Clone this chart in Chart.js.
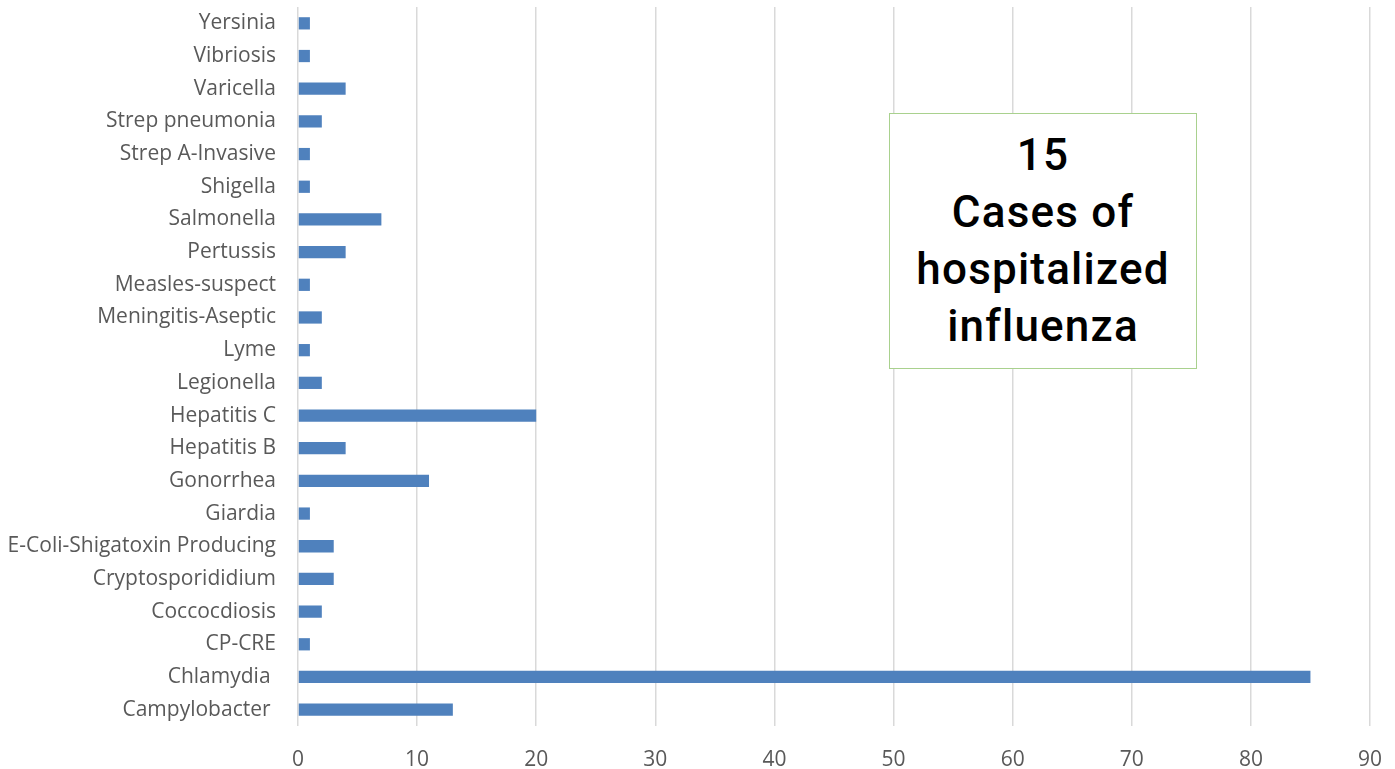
<!DOCTYPE html>
<html>
<head>
<meta charset="utf-8">
<script src="https://cdn.jsdelivr.net/npm/chart.js@4"></script>
<style>
  html, body { margin: 0; padding: 0; background: #fff; }
  #wrap { position: relative; width: 1395px; height: 769px; }
  #note {
    position: absolute; left: 889px; top: 113px; width: 306px; height: 254px;
    border: 1.5px solid #a9d18e; background: #fff;
    display: flex; align-items: center; justify-content: center; text-align: center;
    font-family: Roboto, sans-serif; font-weight: 500; font-size: 44px; line-height: 57px;
    color: #000; letter-spacing: 1.2px;
  }
</style>
</head>
<body>
<div id="wrap">
  <canvas id="myChart" width="1395" height="769"></canvas>
  <div id="note">15<br>Cases of<br>hospitalized<br>influenza</div>
</div>
<script>
const ctx = document.getElementById("myChart").getContext("2d");

// categories, top to bottom as shown
const diseases = ["Yersinia", "Vibriosis", "Varicella", "Strep pneumonia", "Strep A-Invasive",
  "Shigella", "Salmonella", "Pertussis", "Measles-suspect", "Meningitis-Aseptic", "Lyme",
  "Legionella", "Hepatitis C", "Hepatitis B", "Gonorrhea", "Giardia",
  "E-Coli-Shigatoxin Producing", "Cryptosporididium", "Coccocdiosis", "CP-CRE",
  "Chlamydia ", "Campylobacter "];
const cases = [1, 1, 4, 2, 1, 1, 7, 4, 1, 2, 1, 2, 20, 4, 11, 1, 3, 3, 2, 1, 85, 13];
const xTicks = [0, 10, 20, 30, 40, 50, 60, 70, 80, 90];

const labelFont = { family: "'Open Sans', sans-serif", size: 21 };

const config = {
  type: "bar",
  data: {
    labels: diseases,
    datasets: [{
      data: cases,
      backgroundColor: "#4f81bd",
      borderWidth: 0,
      barPercentage: 0.75,
      categoryPercentage: 0.5,
    }],
  },
  options: {
    indexAxis: "y",
    responsive: false,
    animation: false,
    layout: { padding: { top: 7, right: 25, bottom: 0, left: 0 } },
    plugins: { legend: { display: false }, tooltip: { enabled: false } },
    scales: {
      x: {
        min: xTicks[0],
        max: xTicks[xTicks.length - 1],
        afterBuildTicks: (scale) => { scale.ticks = xTicks.map(v => ({ value: v })); },
        afterFit: (scale) => { scale.height = 43; scale.paddingRight = 0; scale.paddingLeft = 0; },
        grid: { color: "#d9d9d9", lineWidth: 1.5, drawTicks: false },
        border: { display: false },
        ticks: { color: "#595959", font: labelFont, padding: 21 },
      },
      y: {
        afterFit: (scale) => { scale.width = 298; scale.paddingTop = 0; scale.paddingBottom = 0; },
        grid: { display: false, drawTicks: false },
        border: { display: false },
        ticks: { color: "#595959", font: labelFont, padding: 22, autoSkip: false },
      },
    },
  },
};

const myChart = new Chart(ctx, config);
</script>
</body>
</html>
